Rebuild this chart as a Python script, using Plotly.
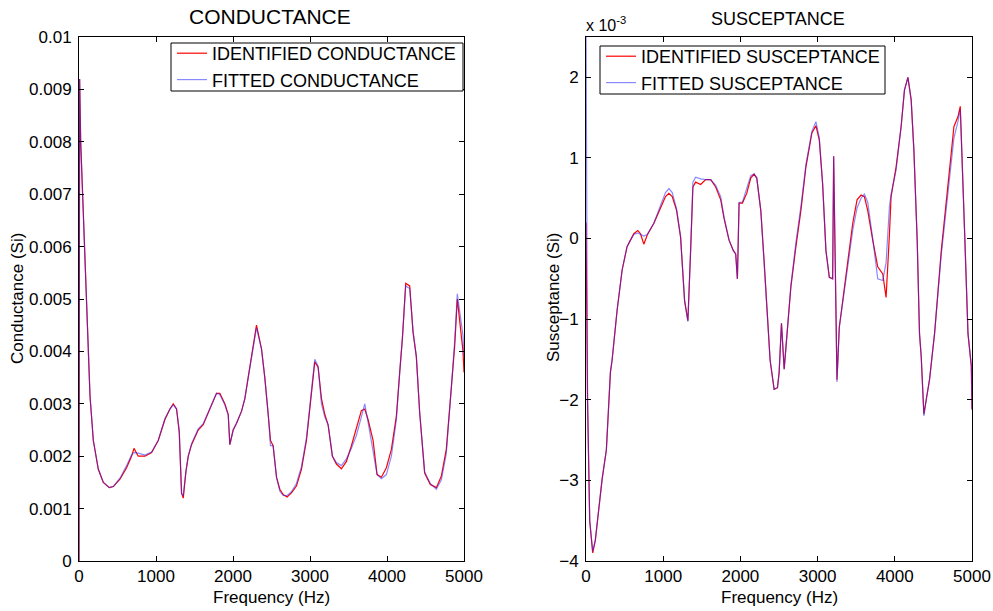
import plotly.graph_objects as go

# ---------------- data ----------------
cond_freq = [0, 8, 22, 48, 65, 91, 121, 143, 186, 251, 316, 394, 445, 532, 618, 683, 714, 770, 856, 943,
             1029, 1116, 1181, 1224, 1267, 1302, 1332, 1354, 1388, 1419, 1462, 1548, 1613, 1678, 1743, 1786,
             1829, 1894, 1938, 1959, 2002, 2046, 2111, 2154, 2197, 2240, 2305, 2370, 2413, 2457, 2487, 2521,
             2565, 2608, 2651, 2703, 2759, 2824, 2889, 2954, 3019, 3062, 3105, 3149, 3192, 3235, 3291, 3343,
             3408, 3473, 3538, 3603, 3667, 3711, 3754, 3819, 3871, 3927, 3992, 4057, 4122, 4165, 4200, 4243,
             4295, 4338, 4381, 4424, 4489, 4563, 4641, 4706, 4770, 4835, 4879, 4913, 4987, 5000]
# values in mS
cond_identified = [0, 9.2, 8.0, 7.0, 6.0, 5.0, 4.0, 3.15, 2.3, 1.75, 1.5, 1.4, 1.42, 1.56, 1.78, 2.0, 2.15, 2.0, 2.0, 2.07,
                   2.3, 2.7, 2.9, 3.0, 2.9, 2.45, 1.3, 1.2, 1.7, 2.0, 2.22, 2.5, 2.6, 2.83, 3.05, 3.2,
                   3.2, 3.0, 2.8, 2.22, 2.5, 2.63, 2.86, 3.1, 3.5, 3.9, 4.5, 4.05, 3.5, 2.8, 2.3, 2.2,
                   1.6, 1.37, 1.27, 1.22, 1.3, 1.43, 1.75, 2.3, 3.2, 3.8, 3.7, 3.1, 2.8, 2.6, 2.0, 1.85,
                   1.76, 1.9, 2.2, 2.55, 2.87, 2.9, 2.7, 2.3, 1.65, 1.6, 1.78, 2.13, 2.77, 3.6, 4.25, 5.3,
                   5.25, 4.36, 3.9, 2.84, 1.68, 1.46, 1.4, 1.62, 2.13, 3.3, 4.1, 5.0, 4.0, 3.6]
cond_fitted = [0, 9.2, 8.0, 7.0, 6.0, 5.0, 4.0, 3.15, 2.3, 1.75, 1.5, 1.4, 1.42, 1.58, 1.82, 2.03, 2.07, 2.06, 2.02, 2.08,
               2.3, 2.72, 2.9, 2.98, 2.9, 2.5, 1.28, 1.25, 1.7, 2.0, 2.24, 2.52, 2.62, 2.85, 3.07, 3.2,
               3.18, 2.98, 2.78, 2.22, 2.5, 2.63, 2.86, 3.1, 3.5, 3.9, 4.45, 4.05, 3.5, 2.8, 2.2, 2.2,
               1.6, 1.33, 1.25, 1.25, 1.32, 1.48, 1.8, 2.35, 3.25, 3.85, 3.72, 3.0, 2.75, 2.6, 2.0, 1.88,
               1.82, 1.95, 2.15, 2.4, 2.75, 3.0, 2.65, 2.1, 1.65, 1.57, 1.65, 2.0, 2.7, 3.6, 4.25, 5.25,
               5.2, 4.4, 3.9, 2.84, 1.7, 1.48, 1.37, 1.55, 2.05, 3.3, 4.2, 5.1, 4.3, 3.9]

susc_freq = [0, 20, 48, 87, 121, 165, 208, 264, 316, 338, 403, 468, 532, 576, 619, 671, 706, 749, 792, 879,
             965, 1030, 1074, 1117, 1173, 1225, 1277, 1320, 1355, 1385, 1420, 1485, 1550, 1615, 1680, 1745,
             1788, 1853, 1909, 1939, 1961, 1983, 2026, 2082, 2134, 2177, 2212, 2264, 2307, 2351, 2385, 2437,
             2480, 2502, 2532, 2567, 2602, 2654, 2719, 2784, 2849, 2926, 2978, 3022, 3065, 3108, 3152, 3195,
             3208, 3251, 3281, 3325, 3390, 3455, 3511, 3563, 3606, 3649, 3714, 3779, 3844, 3887, 3931, 3952,
             4017, 4082, 4125, 4170, 4212, 4247, 4290, 4320, 4342, 4377, 4407, 4450, 4493, 4515, 4602, 4688,
             4766, 4818, 4848, 4905, 4948, 4991, 5000]
# values in units of 1e-3 S
susc_identified = [0.2, -2.0, -3.5, -3.9, -3.74, -3.37, -2.99, -2.62, -1.66, -1.51, -0.89, -0.39, -0.1, -0.02, 0.06, 0.1, 0.06, -0.07, 0.04, 0.19,
                   0.39, 0.52, 0.56, 0.52, 0.35, 0.02, -0.77, -1.02, -0.15, 0.64, 0.7, 0.67, 0.73, 0.73, 0.64, 0.48,
                   0.25, -0.02, -0.15, -0.19, -0.5, 0.44, 0.44, 0.56, 0.75, 0.8, 0.75, 0.35, -0.27, -0.97, -1.51, -1.87,
                   -1.85, -1.66, -1.05, -1.62, -1.18, -0.6, -0.1, 0.35, 0.89, 1.31, 1.4, 1.22, 0.68, -0.15, -0.48, -0.5,
                   1.02, -1.75, -1.1, -0.77, -0.27, 0.19, 0.48, 0.54, 0.52, 0.35, -0.02, -0.35, -0.44, -0.73, 0.06, 0.52,
                   0.89, 1.39, 1.84, 2.0, 1.72, 1.1, -0.02, -1.18, -1.46, -2.18, -2.0, -1.75, -1.37, -1.18, -0.15, 0.68,
                   1.39, 1.51, 1.64, 0.06, -1.18, -1.58, -2.12]
susc_fitted = [2.8, -2.0, -3.5, -3.88, -3.74, -3.37, -2.99, -2.62, -1.66, -1.51, -0.89, -0.39, -0.1, -0.02, 0.05, 0.07, 0.05, 0.03, 0.05, 0.19,
               0.41, 0.57, 0.62, 0.57, 0.37, 0.02, -0.77, -1.03, -0.15, 0.7, 0.76, 0.74, 0.73, 0.73, 0.66, 0.52,
               0.27, -0.02, -0.15, -0.19, -0.5, 0.45, 0.45, 0.62, 0.78, 0.8, 0.75, 0.35, -0.27, -0.97, -1.51, -1.87,
               -1.85, -1.66, -1.05, -1.62, -1.18, -0.58, -0.05, 0.4, 0.92, 1.33, 1.45, 1.25, 0.68, -0.15, -0.48, -0.5,
               1.02, -1.78, -1.1, -0.8, -0.35, 0.1, 0.38, 0.5, 0.55, 0.45, 0.0, -0.5, -0.52, -0.3, 0.4, 0.55,
               0.85, 1.39, 1.84, 2.0, 1.72, 1.1, -0.02, -1.18, -1.46, -2.2, -2.0, -1.75, -1.37, -1.18, -0.2, 0.55,
               1.25, 1.45, 1.6, 0.06, -1.18, -1.58, -2.12]

cond_ticks = [0, 0.001, 0.002, 0.003, 0.004, 0.005, 0.006, 0.007, 0.008, 0.009, 0.01]
cond_tick_labels = ["0", "0.001", "0.002", "0.003", "0.004", "0.005", "0.006", "0.007", "0.008", "0.009", "0.01"]
susc_ticks = [-4, -3, -2, -1, 0, 1, 2]
freq_ticks = [0, 1000, 2000, 3000, 4000, 5000]

legend_left = ["IDENTIFIED CONDUCTANCE", "FITTED CONDUCTANCE"]
legend_right = ["IDENTIFIED SUSCEPTANCE", "FITTED SUSCEPTANCE"]

# ---------------- figure ----------------
FONT = "Arial, Liberation Sans, sans-serif"
RED = "#ff0000"
BLUE = "rgba(40,40,255,0.55)"

cond_id_S = [v * 1e-3 for v in cond_identified]
cond_fit_S = [v * 1e-3 for v in cond_fitted]

fig = go.Figure()
fig.add_trace(go.Scatter(x=cond_freq, y=cond_id_S, mode="lines", name=legend_left[0],
                         line=dict(color=RED, width=1.2), xaxis="x", yaxis="y", legend="legend"))
fig.add_trace(go.Scatter(x=cond_freq, y=cond_fit_S, mode="lines", name=legend_left[1],
                         line=dict(color=BLUE, width=1.2), xaxis="x", yaxis="y", legend="legend"))
fig.add_trace(go.Scatter(x=susc_freq, y=susc_identified, mode="lines", name=legend_right[0],
                         line=dict(color=RED, width=1.2), xaxis="x2", yaxis="y2", legend="legend2"))
fig.add_trace(go.Scatter(x=susc_freq, y=susc_fitted, mode="lines", name=legend_right[1],
                         line=dict(color=BLUE, width=1.2), xaxis="x2", yaxis="y2", legend="legend2"))

W, H = 993, 611
ydom = [(H - 561) / H, (H - 37) / H]

axis_common = dict(showline=True, linecolor="black", linewidth=1, mirror="allticks",
                   ticks="inside", ticklen=5, tickcolor="black", showgrid=False, zeroline=False,
                   automargin=False,
                   tickfont=dict(family=FONT, size=17, color="black"))

def ann(text, x, y, size=17, angle=0, xanchor="center"):
    return dict(text=text, x=x / W, y=1 - y / H, xref="paper", yref="paper",
                xanchor=xanchor, yanchor="middle", showarrow=False, textangle=angle,
                font=dict(family=FONT, size=size, color="black"))

def box(x0, y0, x1, y1):
    return dict(type="rect", xref="paper", yref="paper", layer="above",
                x0=x0 / W, x1=x1 / W, y0=1 - y1 / H, y1=1 - y0 / H,
                line=dict(color="black", width=1), fillcolor="white")

legend_style = dict(bgcolor="rgba(0,0,0,0)", borderwidth=0, tracegroupgap=0, itemwidth=30,
                    font=dict(family=FONT, size=18, color="black"), yanchor="top", xanchor="left")

fig.update_layout(
    width=W, height=H,
    margin=dict(l=0, r=0, t=0, b=0),
    paper_bgcolor="white", plot_bgcolor="white",
    font=dict(family=FONT, color="black"),
    showlegend=True,
    hovermode=False,
    xaxis=dict(domain=[79 / W, 464 / W], range=[0, 5000], tickvals=freq_ticks, anchor="y",
               ticklabelstandoff=0, **axis_common),
    yaxis=dict(domain=ydom, range=[0, 0.01], tickvals=cond_ticks, ticktext=cond_tick_labels, anchor="x",
               ticklabelstandoff=3, **axis_common),
    xaxis2=dict(domain=[586 / W, 972 / W], range=[0, 5000], tickvals=freq_ticks, anchor="y2",
                ticklabelstandoff=0, **axis_common),
    yaxis2=dict(domain=ydom, range=[-4, 2.5], tickvals=susc_ticks, anchor="x2",
                ticklabelstandoff=3, **axis_common),
    legend=dict(x=172 / W, y=1 - 35 / H, **legend_style),
    legend2=dict(x=601 / W, y=1 - 38 / H, **legend_style),
    shapes=[box(171, 43, 463, 91), box(600, 46, 885, 94)],
    annotations=[
        ann("CONDUCTANCE", 270, 16, size=21),
        ann("SUSCEPTANCE", 778, 19, size=18),
        ann("x 10<sup>-3</sup>", 584, 24, size=16, xanchor="left"),
        ann("Frequency (Hz)", 271, 597),
        ann("Frequency (Hz)", 779, 597),
        ann("Conductance (Si)", 18, 299, angle=-90),
        ann("Susceptance (Si)", 553, 298, angle=-90),
    ],
)

fig.write_html("out.html", config={"displayModeBar": False},
               post_script="document.body.style.margin='0';window.dispatchEvent(new Event('resize'));")
